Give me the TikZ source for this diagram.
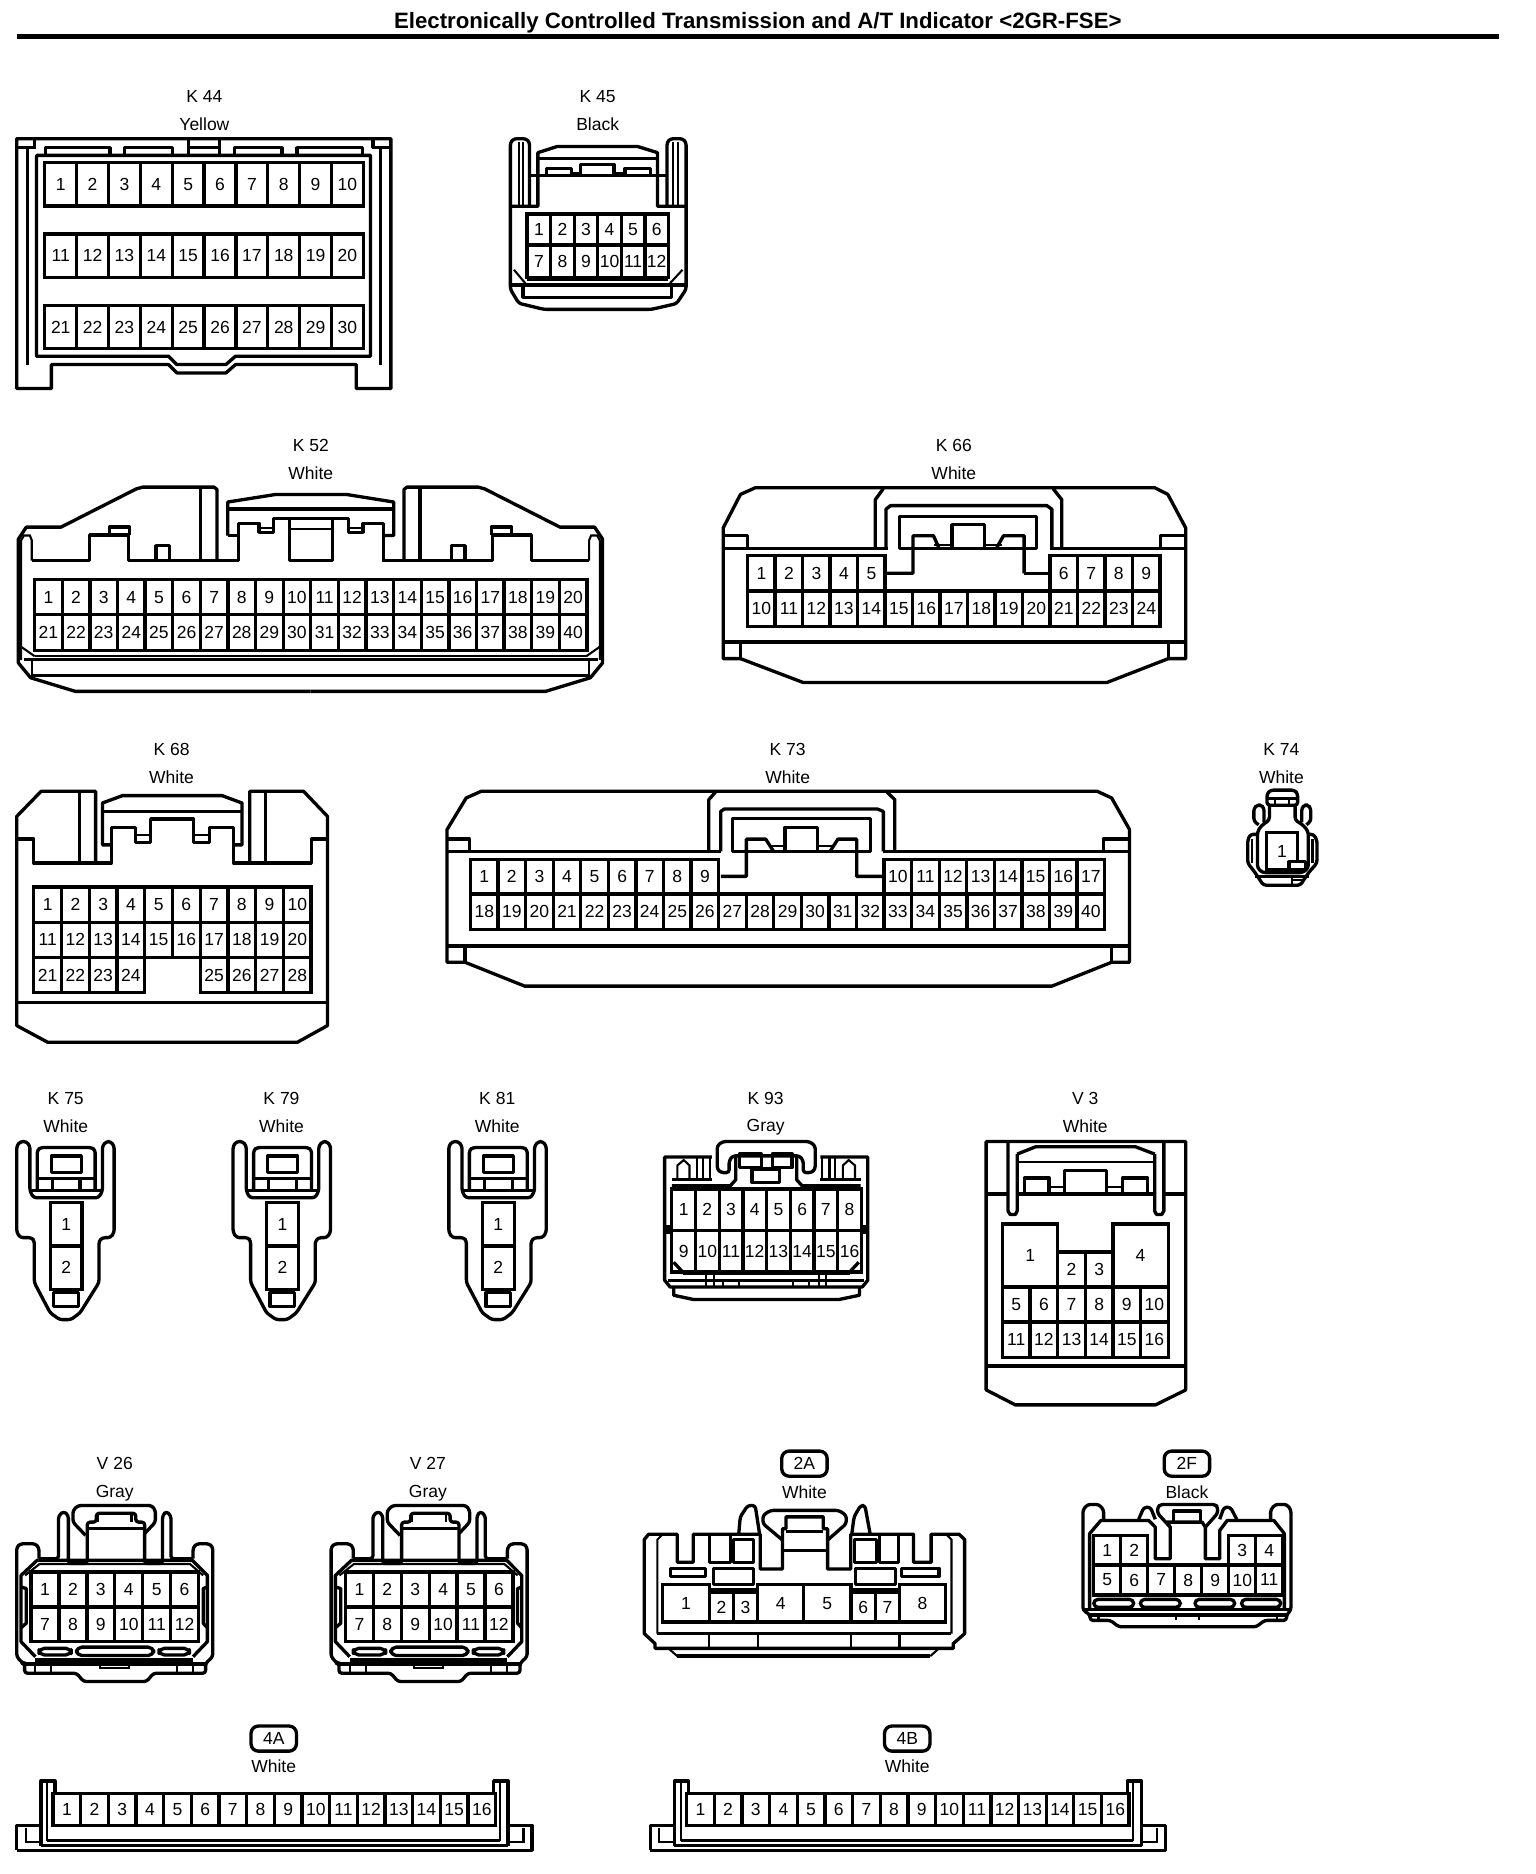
\documentclass[tikz,border=0pt]{standalone}
\usepackage{fontspec}
\setmainfont{Liberation Sans}
\def\ux{0.024cm}
\tikzset{
  outline/.style={draw,line width=1.9pt,line join=round},
  soft/.style={outline,rounded corners=1.6pt},
  fine/.style={draw,line width=1.2pt},
  pinbox/.style={draw,line width=1.9pt,anchor=north west,inner sep=0pt,outer sep=0pt,font=\fontsize{10}{12}\selectfont},
  lbl/.style={inner sep=0pt,font=\fontsize{10}{12}\selectfont},
  pill/.style={draw,line width=1.9pt,rounded corners=4.2pt,minimum width=38*\ux,minimum height=21*\ux,inner sep=0pt,font=\fontsize{10}{12}\selectfont},
  ttl/.style={inner sep=0pt,font=\fontsize{12.7}{15}\selectfont\bfseries}
}
\newcommand{\pinrow}[7]{%
  \foreach \n in {#2,...,#3}
    \node[pinbox,minimum width=#6*\ux,minimum height=#7*\ux] (#1-\n) at ({#4+(\n-#2)*#6},#5) {\n};
}
\newcommand{\pinone}[6]{%
  \node[pinbox,minimum width=#5*\ux,minimum height=#6*\ux] (#1-#2) at (#3,#4) {#2};
}
\newcommand{\ksideone}{%
  \draw[outline] (181.5,469)--(181.5,409.5)--(179,407.5)--(119.5,407.5)--(114,409)--(51,441)--(22,441)--(15.4,451)--(15.4,554.6)--(25.6,567)--(63,578.4)--(259.75,578.4);
  \draw[outline] (26.6,469)--(75,469)--(75,447.6)--(107.5,447.6)--(107.5,469)--(199.7,469);
  \draw[outline] (130.4,469)--(130.4,456.5)--(141.6,456.5)--(141.6,469);
  \draw[outline] (91.5,447.6)--(91.5,441)--(108.5,441)--(108.5,447.6);
  \draw[outline] (168,407.5)--(168,469);
  \draw[fine] (17.7,552)--(17.7,452)--(20,448)--(25,448)--(26.6,452)--(26.6,469);
  \draw[fine] (26.6,552)--(26.6,566);
  \draw[fine] (17,540.6)--(29,549);
}
\newcommand{\kninesideone}{%
  \draw[fine] (566.7,987)--(566.7,975)--(572,970.5)--(576.8,975)--(576.8,987);
  \draw[fine] (583.4,968)--(583.4,987);
  \draw[fine] (588,968)--(588,987);
  \draw[fine] (594,968)--(594,987);
  \draw[outline] (562,987)--(595.6,987);
  \draw[outline] (562,992)--(611,992)--(615.5,987)--(615.5,968);
  \draw[outline] (563.6,1056)--(571,1064)--(571,1066);
  \draw[fine] (591,1065.5)--(591,1076.7);
  \draw[fine] (597,1065.5)--(597,1076.7);
  \draw[fine] (605,1071)--(605,1076.7);
  \draw[fine] (618.5,1071)--(618.5,1076.7);
  \draw[outline,fill=black] (557,1026) rectangle (561.5,1031);
}
\newcommand{\sensorplug}[2]{%
\begin{scope}[shift={(#2,955)}]
  \draw[soft] (0,76)--(0,3.6)--(3,0)--(8,0)--(11,3.6)--(11,41.3)--(14,47)--(68.6,47)--(71.7,41.3)--(71.7,3.6)--(75,0)--(78.5,0)--(81.5,3.6)--(81.5,76)--(78.5,80.4)--(71.7,80.4)--(68.8,83.2)--(68.8,118)--(53,143.3)--(45.3,149)--(36,149)--(28,143.3)--(14.7,118)--(14.7,83.2)--(12.5,80.4)--(3,80.4)--cycle;
  \draw[soft] (17.2,41)--(17.2,7)--(20.3,5)--(62.5,5)--(65.6,7)--(65.6,41);
  \draw[outline] (17.2,30.7)--(65.6,30.7);
  \draw[outline] (12.5,40.8)--(71,40.8);
  \draw[outline] (29.7,30.7)--(29.7,40.8);
  \draw[outline] (53,30.7)--(53,40.8);
  \draw[outline] (29,12) rectangle (54,26);
  \pinone{#1}{1}{28}{51}{26.7}{36.4}
  \pinone{#1}{2}{28}{87.4}{26.7}{36.3}
  \draw[outline] (31,126.5) rectangle (51.5,137.8);
\end{scope}
}
\newcommand{\vplug}[2]{%
\begin{scope}[shift={(#2,1259)}]
  \draw[soft] (18.6,45)--(18.6,35.8)--(15.6,32.5)--(3,32.5)--(0,35.3)--(0,127)--(5,132.5)--(6.6,132.5)--(6.6,140.8)--(50,140.8)--(56,147.8)--(108.6,147.8)--(114.5,140.8)--(158,140.8)--(158,132.5)--(164,127)--(164,35.3)--(161,32.5)--(150.5,32.5)--(147.5,35.8)--(147.5,45);
  \draw[soft] (18.6,45)--(35,45)--(35,9)--(39.6,5.3)--(43.2,9)--(43.2,49)--(59,49)--(59,14.4)--(66.6,14.4)--(66.6,7)--(99.6,7)--(99.6,14.4)--(107,14.4)--(107,49)--(122,49)--(122,9)--(125,5.3)--(129,9)--(129,45)--(147.5,45);
  \draw[soft] (57.6,25.5)--(47,14.4)--(47,4.7)--(51.4,0.5)--(113,0.5)--(116,4.7)--(116,14.4)--(107,24);
  \draw[outline] (59,20)--(107,20);
  \draw[fine] (68,7)--(68,14.4);
  \draw[fine] (96,7)--(96,14.4);
  \draw[outline] (15.6,127)--(3.6,114.4)--(3.6,59)--(17,46.4)--(147,46.4)--(159.5,59)--(159.5,114.4)--(147.5,127);
  \draw[fine] (7,59)--(19,49.5)--(145,49.5)--(156,59);
  \draw[outline] (3.6,68.6)--(8,70)--(8,99)--(3.6,102.8);
  \draw[outline] (159.5,68.6)--(156,70)--(156,99)--(159.5,102.8);
  \pinrow{#1}{1}{6}{12}{56}{23.35}{29.3}
  \pinrow{#1}{7}{12}{12}{85.3}{23.35}{29.1}
  \draw[outline,rounded corners=3pt] (18.6,120) rectangle (45.6,125.5);
  \draw[outline,rounded corners=3pt] (50,119) rectangle (114.5,126);
  \draw[outline,rounded corners=3pt] (119,120) rectangle (144.5,125.5);
  \draw[outline] (15.6,129.7)--(147.5,129.7);
  \draw[outline] (6.6,133)--(158,133);
  \draw[fine] (15.6,133)--(15.6,140.8);
  \draw[fine] (29,133)--(29,140.8);
  \draw[fine] (134,133)--(134,140.8);
  \draw[fine] (147.5,133)--(147.5,140.8);
  \draw[fine] (69.6,134) rectangle (93.6,136.7);
\end{scope}
}
\newcommand{\fourplug}[2]{%
\begin{scope}[shift={(#2,1490)}]
  \draw[outline] (0,58)--(0,37)--(20.2,37)--(20.2,0)--(32,0)--(32,10.6);
  \draw[outline] (399,10.6)--(399,0)--(411,0)--(411,37)--(431,37)--(431,58)--(0,58);
  \draw[outline] (20.2,37)--(20.2,54);
  \draw[outline] (411,37)--(411,54);
  \draw[fine] (25.6,0)--(25.6,50);
  \draw[fine] (404,0)--(404,50);
  \draw[fine] (7.4,39)--(7.4,51)--(20.2,51);
  \draw[fine] (424,39)--(424,51)--(411,51);
  \draw[outline] (25.6,49.6)--(404,49.6);
  \draw[outline] (20.2,53.8)--(411,53.8);
  \pinrow{#1}{1}{16}{30.4}{10.6}{23.14}{26.4}
\end{scope}
}
\begin{document}
\begin{tikzpicture}[x=0.024cm,y=-0.024cm]
\useasboundingbox (0,0) rectangle (1285,1567.8);
\node[ttl] (title) at (634,19) {Electronically Controlled Transmission and A/T Indicator <2GR-FSE>};
\draw[line width=2.6pt] (14,30.5)--(1254,30.5);

\node[lbl] (k44name) at (171,81) {K 44};
\node[lbl] (k44color) at (171,104) {Yellow};
\draw[outline] (14,116)--(327,116)--(327,325)--(298,325)--(298,305)--(197,305)--(189,312)--(148,312)--(141,305)--(43,305)--(43,325)--(14,325)--cycle;
\draw[outline] (30.6,130)--(310,130)--(310,298)--(197,298)--(189,305)--(148,305)--(141,298)--(30.6,298)--cycle;
\draw[outline] (23,123.5)--(23,305);
\draw[outline] (318.5,123.5)--(318.5,305);
\draw[outline] (14,123.5)--(30,123.5);
\draw[outline] (29,116)--(29,123.5);
\draw[outline] (311,123.5)--(327,123.5);
\draw[outline] (312,116)--(312,123.5);
\draw[outline] (38,130)--(38,123.5)--(92,123.5)--(92,130);
\draw[outline] (104,130)--(104,123.5)--(144.5,123.5)--(144.5,130);
\draw[outline] (157.5,116)--(157.5,130);
\draw[outline] (183.5,116)--(183.5,130);
\draw[outline] (157.5,123.5)--(183.5,123.5);
\draw[outline] (196,130)--(196,123.5)--(236,123.5)--(236,130);
\draw[outline] (248.5,130)--(248.5,123.5)--(303,123.5)--(303,130);
\pinrow{k44}{1}{10}{37.5}{136}{26.65}{36.3}
\pinrow{k44}{11}{20}{37.5}{195.7}{26.65}{36.3}
\pinrow{k44}{21}{30}{37.5}{255.4}{26.65}{36.3}

\node[lbl] (k45name) at (500,81) {K 45};
\node[lbl] (k45color) at (500,104) {Black};
\draw[soft] (443,172.5)--(443,119)--(440,116)--(430,116)--(427,119)--(427,242)--(434,253.7)--(455,258.8)--(545,258.8)--(566,254)--(574,242)--(574,119)--(571,116)--(561,116)--(558,119)--(558,172.5);
\draw[fine] (434,119)--(434,172.5);
\draw[fine] (437.6,119)--(437.6,172.5);
\draw[fine] (567,119)--(567,172.5);
\draw[fine] (563.4,119)--(563.4,172.5);
\draw[outline] (427,172.5)--(450,172.5)--(450,127.7)--(466,122.6)--(533.6,122.6)--(550,127.7)--(550,172.5)--(574,172.5);
\draw[outline] (450,132.7)--(550,132.7);
\draw[outline] (443,147)--(558,147);
\draw[outline] (457,147)--(457,140.8)--(478,140.8)--(478,147);
\draw[outline] (485.6,147)--(485.6,137.5)--(513.6,137.5)--(513.6,147);
\draw[outline] (523,147)--(523,140.8)--(544,140.8)--(544,147);
\draw[fine] (478,144.5)--(485.6,144.5);
\draw[fine] (513.6,144.5)--(523,144.5);
\pinrow{k45}{1}{6}{441}{179}{19.7}{26}
\pinrow{k45}{7}{12}{441}{205}{19.7}{27}
\draw[fine] (430,225.7)--(439.5,237);
\draw[fine] (571,225.7)--(560.5,237);
\draw[fine] (441,234)--(559,234);
\draw[outline] (427,238.3)--(574,238.3);
\draw[outline] (437.6,238.3)--(437.6,248.7)--(562,248.7)--(562,238.3);

\node[lbl] (k52name) at (260,373) {K 52};
\node[lbl] (k52color) at (260,396) {White};
\ksideone
\begin{scope}[shift={(519.5,0)},xscale=-1]
\ksideone
\end{scope}
\draw[outline] (199.7,469)--(199.7,437.8)--(216.7,437.8)--(216.7,445.3)--(228.7,445.3)--(228.7,434)--(291.8,434)--(291.8,445.3)--(303.8,445.3)--(303.8,437.8)--(320.8,437.8)--(320.8,469);
\draw[outline] (190.5,448)--(190.5,420)--(230.4,413.7)--(290,413.7)--(329.4,420)--(329.4,448)--(320.8,448);
\draw[outline] (190.5,448)--(199.7,448);
\draw[outline] (190.5,425.7)--(329.4,425.7);
\draw[outline] (242.3,434)--(242.3,469)--(278,469)--(278,434);
\draw[fine] (242.3,442.5)--(278,442.5);
\draw[fine] (216.7,442)--(228.7,442);
\draw[fine] (291.8,442)--(303.8,442);
\draw[outline] (320.8,469)--(338,469);
\pinrow{k52}{1}{20}{29}{485}{23.1}{29}
\pinrow{k52}{21}{40}{29}{514}{23.1}{30}
\draw[outline] (20,551.8)--(500,551.8);
\draw[fine] (29,549)--(491,549);
\draw[outline] (26.6,565)--(493,565);

\node[lbl] (k66name) at (798,373) {K 66};
\node[lbl] (k66color) at (798,396) {White};
\draw[outline] (605,441.7)--(619.5,413.6)--(632,408)--(966,408)--(977,413.6)--(992,441.7)--(992,551)--(977.4,551)--(926,571)--(672,571)--(619.5,551)--(605,551)--cycle;
\draw[outline] (605,458.6)--(743,458.6);
\draw[outline] (878.6,458.6)--(992,458.6);
\draw[outline] (605,448.2)--(625.6,448.2)--(625.6,458.6);
\draw[outline] (971,458.6)--(971,448.2)--(992,448.2);
\draw[outline] (732.3,458.6)--(732.3,418)--(739,408.8);
\draw[outline] (888.3,458.6)--(888.3,418)--(881,408.8);
\draw[outline] (741.2,458.6)--(741.2,426)--(745,423)--(875.8,423)--(880,426)--(880,458.6);
\draw[outline] (752.6,431.9) rectangle (867.4,458.6);
\draw[outline] (742,479.6)--(763.8,479.6)--(763.8,448.2)--(781,448.2)--(785.3,458);
\draw[outline] (856.8,479.6)--(878.6,479.6);
\draw[outline] (856.8,479.6)--(856.8,448.2)--(839.5,448.2)--(834,458);
\draw[outline] (796.4,458.6)--(796.4,438.9)--(823.4,438.9)--(823.4,458.6);
\draw[fine] (781.5,455.8)--(796.4,455.8);
\draw[fine] (823.4,455.8)--(838,455.8);
\pinrow{k66}{1}{5}{625.5}{465}{23}{29.5}
\pinrow{k66}{6}{9}{878.5}{465}{23}{29.5}
\pinrow{k66}{10}{24}{625.5}{494.5}{23}{29.5}
\draw[outline] (605,537)--(992,537);
\draw[outline] (619.5,537)--(619.5,551);
\draw[outline] (977.4,537)--(977.4,551);

\node[lbl] (k68name) at (143.5,627) {K 68};
\node[lbl] (k68color) at (143.5,650) {White};
\draw[outline] (80,722)--(80,662)--(34.4,662)--(14,683)--(14,858)--(40,872)--(248.7,872)--(274,858)--(274,683)--(254,662)--(209,662)--(209,722);
\draw[outline] (66.6,662)--(66.6,722);
\draw[outline] (222,662)--(222,722);
\draw[outline] (14,702)--(28.3,702)--(28.3,722)--(93,722)--(93,692)--(113.5,692)--(113.5,705)--(126,705)--(126,685.2)--(162,685.2)--(162,705)--(175,705)--(175,692)--(195.6,692)--(195.6,722)--(260.5,722)--(260.5,702)--(274,702);
\draw[fine] (113.5,698.5)--(126,698.5);
\draw[fine] (162,698.5)--(175,698.5);
\draw[outline] (93,706.8)--(85.7,706.8)--(85.7,671.8)--(102.5,665.6)--(185.7,665.6)--(202.5,671.8)--(202.5,706.8)--(195.6,706.8);
\draw[outline] (85.7,678.8)--(202.5,678.8);
\pinrow{k68}{1}{10}{28.3}{742}{23.2}{29.5}
\pinrow{k68}{11}{20}{28.3}{771.5}{23.2}{29.5}
\pinrow{k68}{21}{24}{28.3}{801}{23.2}{29.5}
\foreach \n in {25,...,28}
  \node[pinbox,minimum width=23.2*\ux,minimum height=29.5*\ux] (k68-\n) at ({167.5+(\n-25)*23.2},801) {\n};
\draw[outline] (14,838.5)--(274,838.5);

\node[lbl] (k73name) at (659,627) {K 73};
\node[lbl] (k73color) at (659,650) {White};
\draw[outline] (374,694)--(390,667.6)--(402.5,662)--(918,662)--(930,667.6)--(945,694)--(945,805)--(930,805)--(880,825)--(439,825)--(389,805)--(374,805)--cycle;
\draw[outline] (374,712.3)--(603,712.3);
\draw[outline] (739,712.3)--(945,712.3);
\draw[outline] (374,702)--(392.7,702)--(392.7,712.3);
\draw[outline] (923,712.3)--(923,702)--(945,702);
\draw[outline] (593,712.3)--(593,669)--(598.7,662.5);
\draw[outline] (748.6,712.3)--(748.6,669)--(742,662.5);
\draw[outline] (603,712.3)--(603,678.8)--(606,676.8)--(734,676.8)--(739,678.8)--(739,712.3);
\draw[outline] (612.6,685) rectangle (728,712.3);
\draw[outline] (603,733.2)--(624.4,733.2)--(624.4,702)--(640.6,702)--(647,712);
\draw[outline] (739,733.2)--(716.7,733.2)--(716.7,702)--(701,702)--(694.6,712);
\draw[outline] (656.8,712.3)--(656.8,692)--(683.8,692)--(683.8,712.3);
\draw[fine] (645,708)--(656.8,708);
\draw[fine] (683.8,708)--(696,708);
\pinrow{k73}{1}{9}{393.6}{719}{23.07}{29}
\pinrow{k73}{10}{17}{739.6}{719}{23.07}{29}
\pinrow{k73}{18}{40}{393.6}{748}{23.07}{29.5}
\draw[outline] (374,791.3)--(945,791.3);
\draw[outline] (389,791.3)--(389,805);
\draw[outline] (930,791.3)--(930,805);

\node[lbl] (k74name) at (1072,627) {K 74};
\node[lbl] (k74color) at (1072,650) {White};
\draw[soft] (1060,673.6)--(1060,664)--(1063,661)--(1083,661)--(1085.6,664)--(1085.6,673.6)--cycle;
\draw[fine] (1060,668)--(1085.6,668);
\draw[fine] (1067,668)--(1067,673.6);
\draw[fine] (1078,668)--(1078,673.6);
\draw[soft] (1062,673.6)--(1062,686)--(1055,691)--(1052,696)--(1052,726)--(1056,730)--(1090,730)--(1094.5,726)--(1094.5,696)--(1091,691)--(1083.5,686)--(1083.5,673.6);
\draw[soft] (1053,690)--(1049,687)--(1049,676)--(1052,673.5)--(1055,673.5)--(1057.5,676)--(1057.5,688);
\draw[soft] (1089,688)--(1089,676)--(1091.5,673.5)--(1094,673.5)--(1096.6,676)--(1096.6,687)--(1093,690);
\draw[soft] (1052,698)--(1046,698)--(1043.8,703)--(1043.8,722)--(1050,730)--(1057,740.6)--(1087.8,740.6)--(1094.8,730)--(1101.8,722)--(1101.8,703)--(1099,698)--(1094.5,698);
\draw[fine] (1047.5,702)--(1047.5,722);
\draw[fine] (1098,702)--(1098,722);
\pinone{k74}{1}{1059.7}{696.7}{25.7}{30.6}
\draw[outline,fill=white] (1078.5,721) rectangle (1092.4,727.4);
\draw[outline] (1050,733)--(1094.8,733);
\draw[fine] (1081,733)--(1081,740.6);
\draw[fine] (1081,736.5)--(1090,736.5);

\node[lbl] (k75name) at (55,919) {K 75};
\node[lbl] (k75color) at (55,942) {White};
\sensorplug{k75}{14}
\node[lbl] (k79name) at (235.5,919) {K 79};
\node[lbl] (k79color) at (235.5,942) {White};
\sensorplug{k79}{195}
\node[lbl] (k81name) at (416,919) {K 81};
\node[lbl] (k81color) at (416,942) {White};
\sensorplug{k81}{375.5}

\node[lbl] (k93name) at (640.5,919) {K 93};
\node[lbl] (k93color) at (640.5,943) {Gray};
\draw[outline] (595.6,968)--(556,968)--(556,1071)--(560.6,1076.7)--(721.4,1076.7)--(726,1071)--(726,968)--(686.4,968);
\draw[soft] (600,978)--(600,958.6)--(604.6,955)--(677,955)--(682,958.6)--(682,978)--(679,981)--(672,981)--(672,971)--(669,967)--(613,967)--(610,971)--(610,981)--(603,981)--cycle;
\draw[outline] (618.5,965.5) rectangle (636.8,976.7);
\draw[outline] (646,965.5) rectangle (662.7,976.7);
\draw[outline] (629,978) rectangle (652,989);
\kninesideone
\begin{scope}[shift={(1282,0)},xscale=-1]
\kninesideone
\end{scope}
\pinrow{k93}{1}{8}{562}{994.7}{19.83}{34.7}
\pinrow{k93}{9}{16}{562}{1029.4}{19.83}{34.7}
\draw[outline] (571,1065.5)--(711,1065.5);
\draw[outline] (559,1071)--(723,1071);
\draw[outline] (563.6,1076.7)--(563.6,1083.6)--(580.4,1087.2)--(701.7,1087.2)--(719,1083.6)--(719,1076.7);

\node[lbl] (v3name) at (908,919) {V 3};
\node[lbl] (v3color) at (908,942) {White};
\draw[outline] (825,955)--(992,955)--(992,1162.8)--(966.8,1175.3)--(849.4,1175.3)--(825,1162.8)--cycle;
\draw[outline] (843.3,955)--(843.3,1013)--(845,1016)--(849.6,1016)--(851,1013)--(851,965.5);
\draw[outline] (973.7,955)--(973.7,1013)--(972,1016)--(967.4,1016)--(966,1013)--(966,965.5);
\draw[outline] (825,999)--(843.3,999);
\draw[outline] (851,999)--(966,999);
\draw[outline] (973.7,999)--(992,999);
\draw[outline] (851,965.5)--(866.4,959.4)--(950,959.4)--(966,965.5);
\draw[fine] (851,972)--(966,972);
\draw[outline] (857,999)--(857,985.5)--(877.7,985.5)--(877.7,999);
\draw[outline] (890.5,999)--(890.5,979)--(925.6,979)--(925.6,999);
\draw[outline] (939.3,999)--(939.3,985.5)--(960,985.5)--(960,999);
\draw[fine] (877.7,993.3)--(890.5,993.3);
\draw[fine] (925.6,993.3)--(939.3,993.3);
\pinone{v3}{1}{838.7}{1024}{46.2}{52.7}
\pinone{v3}{2}{884.9}{1047.5}{23.1}{29.2}
\pinone{v3}{3}{908}{1047.5}{23.1}{29.2}
\pinone{v3}{4}{931.1}{1024}{46.2}{52.7}
\pinrow{v3}{5}{10}{838.7}{1076.7}{23.1}{29.3}
\pinrow{v3}{11}{16}{838.7}{1106}{23.1}{29.6}
\draw[outline] (825,1142.8)--(992,1142.8);

\node[lbl] (v26name) at (96,1224) {V 26};
\node[lbl] (v26color) at (96,1249) {Gray};
\vplug{v26}{14}
\node[lbl] (v27name) at (358,1224) {V 27};
\node[lbl] (v27color) at (358,1249) {Gray};
\vplug{v27}{277}

\node[pill] (c2aname) at (673,1224.5) {2A};
\node[lbl] (c2acolor) at (673,1248) {White};
\draw[outline] (548,1379)--(548,1375)--(539,1366.7)--(539,1288)--(542.7,1283.5)--(566.6,1283.5)--(566.6,1307)--(580,1307)--(580,1283.5)--(636,1283.5)--(636,1312.6)--(654.6,1312.6)--(654.6,1279)--(657.5,1279)--(657.5,1269)--(688.8,1269)--(688.8,1279)--(692.4,1279)--(692.4,1312.6)--(711.8,1312.6)--(711.8,1283.5)--(764.3,1283.5)--(764.3,1307)--(779,1307)--(779,1283.5)--(802.3,1283.5)--(807,1288)--(807,1366.7)--(797.5,1375)--(797.5,1379)--cycle;
\draw[soft] (618,1283.5)--(619.3,1269)--(625.6,1259.5)--(631.8,1259.5)--(635.5,1283.5);
\draw[soft] (712.6,1283.5)--(714.5,1269)--(720,1259.5)--(723.6,1259.5)--(728,1283.5);
\draw[soft] (654.6,1288.4)--(638.3,1274.7)--(638.3,1267.8)--(644.6,1263.6)--(701.7,1263.6)--(708,1267.8)--(708,1274.7)--(692.4,1288.4);
\draw[outline] (654.6,1297)--(692.4,1297);
\draw[outline] (657.5,1281.5)--(688.8,1281.5);
\draw[fine] (550,1366.7)--(550,1288)--(554.5,1283.5);
\draw[fine] (796,1366.7)--(796,1288)--(791.5,1283.5);
\draw[outline] (550,1366.7)--(796,1366.7);
\draw[fine] (559.2,1379)--(566.6,1385.5);
\draw[fine] (778.3,1385.5)--(785.6,1379);
\draw[outline] (566.6,1385.5)--(778.3,1385.5);
\draw[fine] (593.5,1366.7)--(593.5,1379);
\draw[fine] (634,1366.7)--(634,1379);
\draw[fine] (712,1366.7)--(712,1379);
\draw[fine] (752.5,1366.7)--(752.5,1379);
\draw[outline] (593.5,1283.5)--(593.5,1307)--(611,1307)--(611,1283.5);
\draw[outline] (613.4,1288) rectangle (630.3,1307);
\draw[outline] (715,1288) rectangle (733.4,1307);
\draw[outline] (736,1283.5)--(736,1307)--(751.8,1307)--(751.8,1283.5);
\draw[outline] (561,1312) rectangle (590.5,1319);
\draw[outline] (597,1312) rectangle (630.3,1325.5);
\draw[outline] (715.7,1312) rectangle (749,1325.5);
\draw[outline] (754.4,1312) rectangle (785.7,1319);
\draw[outline] (593.5,1329.6)--(634,1329.6);
\draw[outline] (712,1329.6)--(752.5,1329.6);
\pinone{c2a}{1}{554.5}{1325.5}{39}{31.5}
\pinone{c2a}{2}{593.5}{1332}{20}{25}
\pinone{c2a}{3}{613.5}{1332}{20.5}{25}
\pinone{c2a}{4}{634}{1325.5}{38.3}{31.5}
\pinone{c2a}{5}{672.3}{1325.5}{39.7}{31.5}
\pinone{c2a}{6}{712}{1332}{20.3}{25}
\pinone{c2a}{7}{732.3}{1332}{20.2}{25}
\pinone{c2a}{8}{752.5}{1325.5}{38.7}{31.5}

\node[pill] (c2fname) at (993,1224.5) {2F};
\node[lbl] (c2fcolor) at (993,1248) {Black};
\draw[soft] (923.3,1271)--(923.3,1263)--(919.2,1258.6)--(910,1258.6)--(906,1263)--(906,1347)--(912,1351)--(912,1355.6)--(929,1355.6)--(936,1361)--(1051,1361)--(1058,1355.6)--(1076.3,1355.6)--(1076.3,1351)--(1080,1347)--(1080,1263)--(1076.5,1258.6)--(1067,1258.6)--(1063,1263)--(1063,1271);
\draw[outline] (911.6,1346)--(911.6,1283)--(921,1272)--(961,1272)--(966.5,1277.6)--(966.5,1304)--(979,1304)--(979,1277.6)--(976.3,1273.4)--(1005.7,1273.4)--(1008.4,1277.6)--(1008.4,1304)--(1020.4,1304)--(1020.4,1280.4)--(1026.7,1272)--(1065.7,1272)--(1074.5,1283)--(1074.5,1346);
\draw[soft] (979,1277.6)--(968.4,1266)--(968.4,1261)--(971,1258.6)--(1016.7,1258.6)--(1018.7,1261)--(1018.7,1266)--(1008.4,1277.6);
\draw[outline] (982,1273.4)--(982,1264)--(1004.4,1264)--(1004.4,1273.4);
\draw[soft] (952.6,1271)--(957,1261)--(962.5,1261)--(966.5,1271);
\draw[soft] (1020.4,1271)--(1024,1261)--(1029.5,1261)--(1034.6,1271);
\pinrow{c2f}{1}{2}{915}{1284.5}{22.6}{24.8}
\pinrow{c2f}{3}{4}{1028}{1284.5}{22.6}{24.8}
\pinrow{c2f}{5}{11}{915}{1309.3}{22.6}{25}
\draw[outline,rounded corners=2.5pt] (915,1338) rectangle (948.5,1344.7);
\draw[outline,rounded corners=2.5pt] (954,1338) rectangle (987.5,1344.7);
\draw[outline,rounded corners=2.5pt] (999.7,1338) rectangle (1033,1344.7);
\draw[outline,rounded corners=2.5pt] (1038.6,1338) rectangle (1071.5,1344.7);
\draw[outline] (908,1346.5)--(1078,1346.5);
\draw[outline] (912,1351)--(1076.3,1351);
\draw[fine] (919,1351)--(919,1355.6);
\draw[fine] (983.5,1351)--(983.5,1355.6);
\draw[fine] (1003.3,1351)--(1003.3,1355.6);
\draw[fine] (1068,1351)--(1068,1355.6);

\node[pill] (c4aname) at (229,1454.5) {4A};
\node[lbl] (c4acolor) at (229,1478) {White};
\fourplug{c4a}{14}
\node[pill] (c4bname) at (759,1454.5) {4B};
\node[lbl] (c4bcolor) at (759,1478) {White};
\fourplug{c4b}{544}
\end{tikzpicture}
\end{document}
